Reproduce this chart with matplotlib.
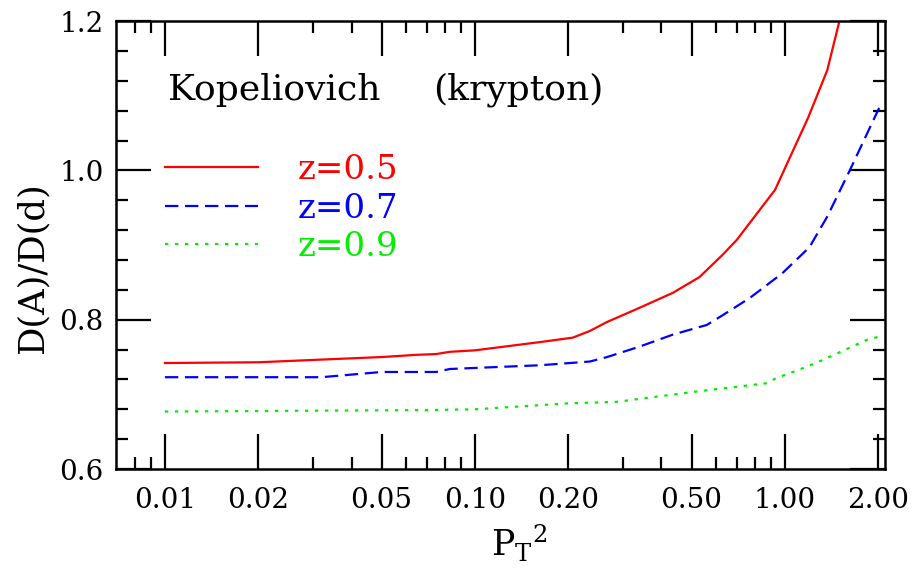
import numpy as np
import matplotlib
matplotlib.use("Agg")
import matplotlib.pyplot as plt
from matplotlib.ticker import FixedLocator, NullFormatter

plt.rcParams['font.family'] = 'DejaVu Serif'
plt.rcParams['mathtext.fontset'] = 'dejavuserif'

# ---- data ----
pt2_red = [0.01, 0.02, 0.05, 0.065, 0.075, 0.083, 0.10, 0.162, 0.207, 0.235, 0.267,
           0.34, 0.435, 0.53, 0.63, 0.70, 0.93, 1.19, 1.37, 1.5, 1.6]
ratio_red = [0.742, 0.743, 0.750, 0.753, 0.754, 0.757, 0.759, 0.770, 0.776, 0.785, 0.797,
             0.816, 0.836, 0.857, 0.887, 0.907, 0.974, 1.071, 1.134, 1.200, 1.240]

pt2_blue = [0.01, 0.032, 0.05, 0.075, 0.083, 0.162, 0.235, 0.267, 0.34, 0.435, 0.56,
            0.63, 0.77, 0.98, 1.2, 1.37, 1.62, 1.98, 2.05]
ratio_blue = [0.723, 0.723, 0.730, 0.730, 0.734, 0.739, 0.744, 0.750, 0.764, 0.780, 0.793,
              0.806, 0.829, 0.862, 0.897, 0.938, 1.000, 1.077, 1.090]

pt2_green = [0.01, 0.07, 0.10, 0.20, 0.287, 0.50, 0.875, 0.94, 1.11, 1.26, 1.84, 2.0]
ratio_green = [0.677, 0.679, 0.680, 0.688, 0.690, 0.703, 0.715, 0.722, 0.733, 0.742, 0.773, 0.777]

labels = ["z=0.5", "z=0.7", "z=0.9"]
colors = ["#ff0000", "#0000ff", "#00ee00"]

x_major = [0.01, 0.02, 0.05, 0.1, 0.2, 0.5, 1.0, 2.0]
x_major_labels = ["0.01", "0.02", "0.05", "0.10", "0.20", "0.50", "1.00", "2.00"]
x_minor = [0.008, 0.009, 0.03, 0.04, 0.06, 0.07, 0.08, 0.09,
           0.3, 0.4, 0.6, 0.7, 0.8, 0.9]
y_major = [0.6, 0.8, 1.0, 1.2]
y_minor = [0.64, 0.68, 0.72, 0.76, 0.84, 0.88, 0.92, 0.96, 1.04, 1.08, 1.12, 1.16]

fig = plt.figure(figsize=(9.13, 5.71), dpi=100, facecolor='white')
ax = fig.add_axes([0.127, 0.1786, 0.842, 0.7844])

ax.plot(pt2_red, ratio_red, color=colors[0], lw=1.6, label=labels[0])
ax.plot(pt2_blue, ratio_blue, color=colors[1], lw=1.6, dashes=(6, 3), label=labels[1])
ax.plot(pt2_green, ratio_green, color=colors[2], lw=1.6, dashes=(1.5, 3), label=labels[2])

ax.set_xscale('log')
ax.set_xlim(0.00695, 2.10)
ax.set_ylim(0.6, 1.2)

ax.xaxis.set_major_locator(FixedLocator(x_major))
ax.set_xticklabels(x_major_labels)
ax.xaxis.set_minor_locator(FixedLocator(x_minor))
ax.xaxis.set_minor_formatter(NullFormatter())
ax.yaxis.set_major_locator(FixedLocator(y_major))
ax.set_yticklabels(["0.6", "0.8", "1.0", "1.2"])
ax.yaxis.set_minor_locator(FixedLocator(y_minor))

ax.tick_params(which='both', direction='in', top=True, right=True, width=1.6, colors='black')
ax.tick_params(which='major', length=25)
ax.tick_params(which='minor', length=8.6)
ax.tick_params(axis='x', which='major', pad=13, labelsize=20)
ax.tick_params(axis='y', which='major', pad=9, labelsize=20)
for s in ax.spines.values():
    s.set_linewidth(1.8)

ax.set_xlabel(r'$\mathrm{P_T}^{2}$', fontsize=25)
ax.xaxis.set_label_coords(0.525, -0.12)
ax.xaxis.label.set_va('top')
ax.set_ylabel('D(A)/D(d)', fontsize=25.5)
ax.yaxis.set_label_coords(-0.087, 0.449)

# title words placed separately (wide spacing in the original)
ax.text(0.068, 0.824, 'Kopeliovich', transform=ax.transAxes,
        fontsize=26, ha='left', va='baseline')
ax.text(0.412, 0.824, '(krypton)', transform=ax.transAxes,
        fontsize=26, ha='left', va='baseline')

leg = ax.legend(loc='upper left', bbox_to_anchor=(0.0637, 0.704), frameon=False,
                fontsize=24.5, handlelength=2.73, handletextpad=1.18, labelspacing=0.2,
                labelcolor='linecolor', borderaxespad=0, borderpad=0)

fig.savefig('out.png', dpi=100, facecolor='white')
